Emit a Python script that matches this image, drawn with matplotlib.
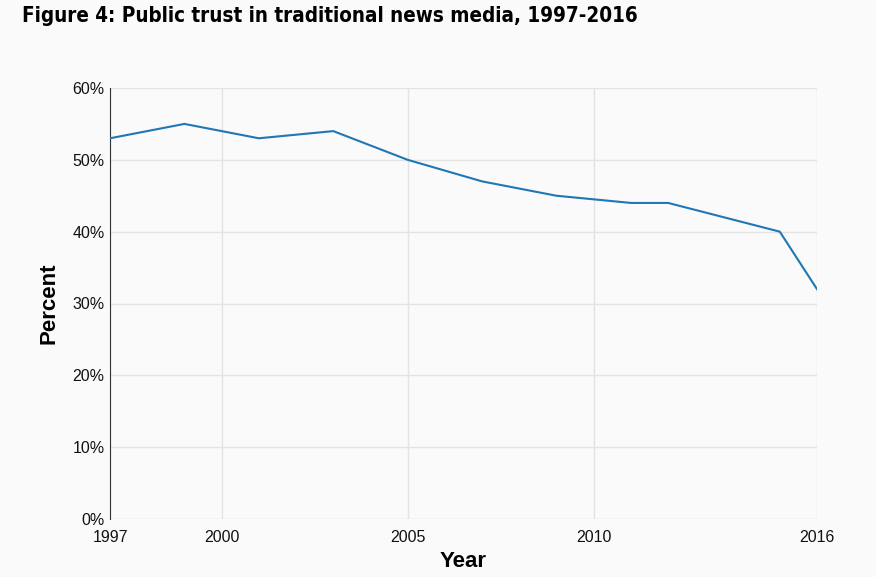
import matplotlib
matplotlib.use("Agg")
import matplotlib.pyplot as plt
from matplotlib.ticker import FuncFormatter

years = [1997, 1999, 2001, 2003, 2005, 2007, 2009, 2011, 2012, 2015, 2016]
trust = [53, 55, 53, 54, 50, 47, 45, 44, 44, 40, 32]
xticks = [1997, 2000, 2005, 2010, 2016]
yticks = [0, 10, 20, 30, 40, 50, 60]

BG = "#fafafa"
plt.rcParams["font.family"] = ["Liberation Sans", "DejaVu Sans"]

fig = plt.figure(figsize=(8.76, 5.77), dpi=100, facecolor=BG)
ax = fig.add_axes([110 / 876, 1 - 519 / 577, 707 / 876, 431 / 577], facecolor=BG)

ax.plot(years, trust, color="#1f77b4", lw=1.5, zorder=3)
ax.set_xlim(1997, 2016)
ax.set_ylim(0, 60)
ax.set_xticks(xticks)
ax.set_yticks(yticks)
ax.yaxis.set_major_formatter(FuncFormatter(lambda v, _: f"{v:.0f}%"))
ax.grid(True, color="#e3e3e3", lw=1)
ax.set_axisbelow(True)
for s in ["top", "right", "bottom"]:
    ax.spines[s].set_visible(False)
ax.spines["left"].set_color("#333333")
ax.tick_params(length=0, labelsize=11.5, colors="#111111")
ax.tick_params(axis="x", pad=8)
ax.tick_params(axis="y", pad=4)

ax.set_xlabel("Year", fontsize=16, fontweight="heavy", labelpad=4)
ax.set_ylabel("Percent", fontsize=16, fontweight="heavy", labelpad=9)

fig.text(22 / 876, 1 - 16 / 577, "Figure 4: Public trust in traditional news media, 1997-2016",
         fontsize=14.8, fontweight="bold", fontstretch="condensed", va="center", ha="left",
         family=["DejaVu Sans"])

fig.savefig("out.png", dpi=100, facecolor=BG)
